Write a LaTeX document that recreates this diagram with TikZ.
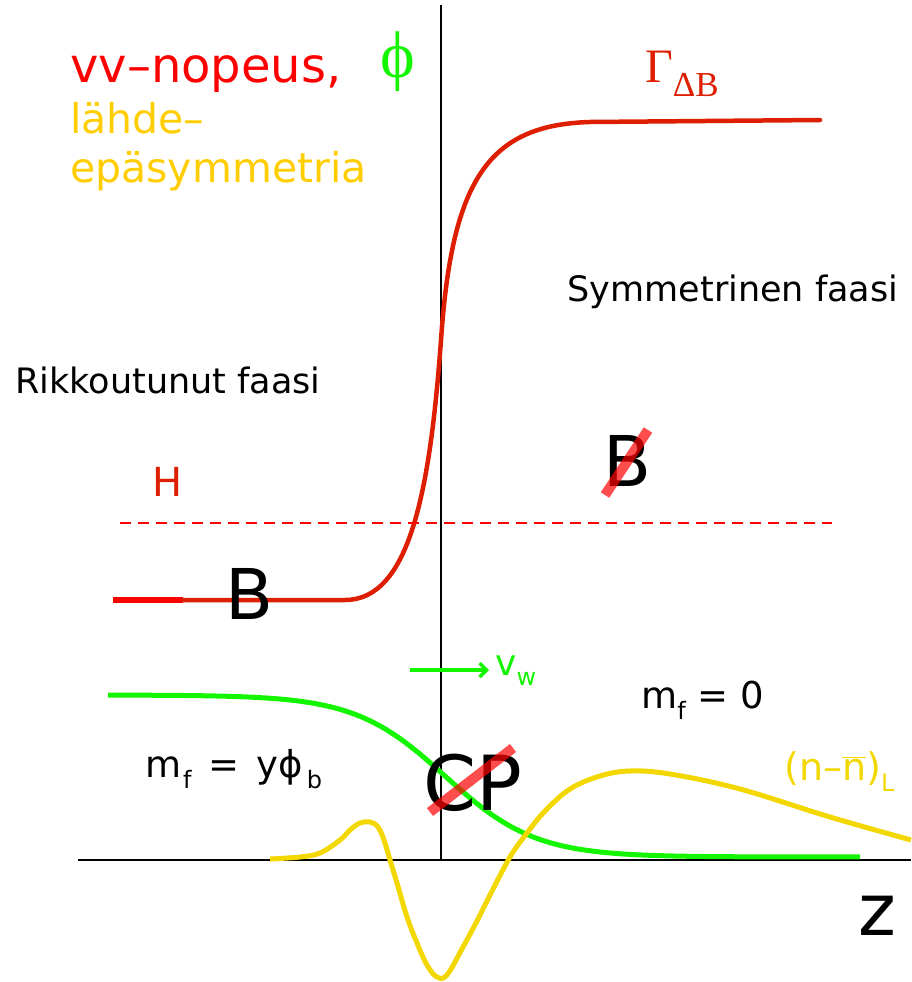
\documentclass[tikz,border=0pt]{standalone}
\usepackage{fontspec}
\setmainfont{DejaVu Sans}
\newfontfamily\greekserif{Liberation Serif}
\usetikzlibrary{arrows.meta}
\definecolor{curvered}{RGB}{222,30,0}
\definecolor{brightred}{RGB}{255,0,0}
\definecolor{wallgreen}{RGB}{20,245,0}
\definecolor{srcyellow}{RGB}{242,215,0}
\definecolor{lblyellow}{RGB}{255,205,0}
\newcommand{\lowtxt}[2]{\raisebox{-0.3em}{\fontsize{#1}{#1}\selectfont #2}}
\newcommand{\fsz}[1]{\fontsize{#1}{#1}\selectfont}

\begin{document}
\begin{tikzpicture}[x=1pt,y=-1pt,>=Stealth]
  \tikzset{
    axisline/.style={black,line width=1.5pt},
    txt/.style={inner sep=0pt,anchor=base west},
    redcurve/.style={curvered,line width=4.5pt,line join=round,line cap=round},
    greencurve/.style={wallgreen,line width=5pt,line join=round},
    yellowcurve/.style={srcyellow,line width=5pt,line join=round},
    strike/.style={brightred,opacity=0.7,line width=10pt}
  }
  \useasboundingbox (0,0) rectangle (911,982);

  % axes
  \draw[axisline] (441,5) -- (441,860);
  \draw[axisline] (78,860) -- (911,860);
  \node[txt,font=\fsz{72}] (zlabel) at (858,935) {z};

  % legend
  \node[txt,brightred,font=\fsz{48}] (speed) at (70,82) {vv–nopeus,};
  \node[wallgreen,inner sep=0pt,font=\greekserif\fsz{66}] (phi) at (398,62) {ϕ};
  \node[txt,lblyellow,font=\fsz{41}] (source1) at (70,133) {lähde–};
  \node[txt,lblyellow,font=\fsz{41}] (source2) at (70,182) {epäsymmetria};

  % red profile
  \node[txt,curvered,font=\greekserif\fsz{48}] (gamma) at (645,82) {Γ\lowtxt{35}{ΔB}};
  \draw[brightred,line width=5.5pt] (113,600) -- (183,600);
  \draw[redcurve] (183,600) -- (345,600)
    .. controls (410,600) and (430,490) .. (441,340)
    .. controls (452,180) and (488,125) .. (590,122) -- (820,120);
  \draw[brightred,line width=1.3pt,dash pattern=on 11pt off 7pt] (120,523) -- (832,523);
  \node[curvered,font=\fsz{40}] (hlev) at (168,482) {H};
  \node[font=\fsz{70}] (bbroken) at (250,594) {B};
  \node[font=\fsz{70}] (bsym) at (628,461) {B};
  \draw[strike] (605,495) -- (648,430);

  \node[font=\fsz{35}] (symph) at (733,292) {Symmetrinen faasi};
  \node[font=\fsz{35}] (brokph) at (168,380) {Rikkoutunut faasi};

  % wall velocity
  \coordinate (vwtail) at (410,670);
  \coordinate (vwhead) at (489,670);
  \node[txt,wallgreen,font=\fsz{36}] (vw) at (495,675) {v\lowtxt{24}{w}};
  \draw[->,wallgreen,line width=3.5pt,>={Straight Barb[length=7pt,width=14pt]}] (vwtail) -- (vwhead);

  % green profile
  \draw[greencurve] plot[domain=108:860,samples=120] (\x,{776+81*tanh((\x-445)/90)});

  % masses
  \node[txt,font=\fsz{37}] (mzero) at (641,708) {m\lowtxt{24}{f} = 0};
  \node[txt,font=\fsz{37}] (mbroken) at (145,777)
    {m\hspace{2pt}\lowtxt{24}{f}\hspace{17pt}=\hspace{17pt}yϕ\hspace{4pt}\lowtxt{24}{b}};

  % CP
  \node[txt,font=\fsz{76}] (cp) at (423,810) {CP};
  \draw[strike] (430,812) -- (513,748);

  % yellow profile
  \draw[yellowcurve] plot[smooth,tension=0.6] coordinates {
    (270,859) (300,857) (320,853) (340,840) (350,830) (360,823) (370,822)
    (378,827) (384,840) (390,860) (397,883) (407,917) (417,943) (427,965)
    (437,977) (447,975) (463,947) (477,921) (490,895) (510,857) (527,833)
    (545,811) (570,789) (600,776) (630,771) (670,774) (740,789) (830,817)
    (911,840)};
  \node[txt,srcyellow,font=\fsz{38}] (asym) at (784,780) {(n–$\overline{\mbox{n}}$)\lowtxt{24}{L}};
\end{tikzpicture}
\end{document}
